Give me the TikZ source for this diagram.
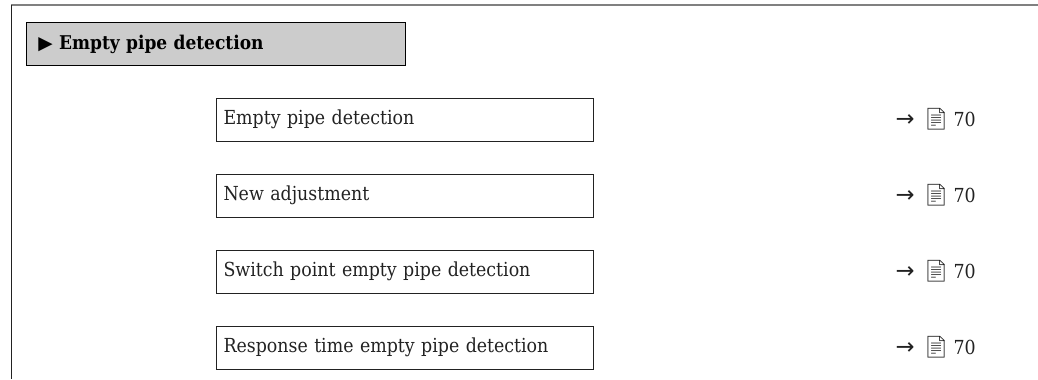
\documentclass[tikz,border=0pt]{standalone}
\usepackage{fontspec}
\setmainfont{DejaVu Serif Condensed}
\newfontfamily\symfont{DejaVu Sans}
\newfontfamily\emojifont{Noto Emoji}
\usetikzlibrary{positioning}
\definecolor{hdrfill}{HTML}{CCCCCC}
\definecolor{framegray}{HTML}{808080}
\definecolor{inkgray}{HTML}{222222}
\newcommand{\seepage}{{\symfont\fontsize{17}{17}\selectfont →}\hspace{6pt}{\emojifont\fontsize{16}{16}\selectfont 📄}\hspace{3pt}70}

\begin{document}
\begin{tikzpicture}[
  x=0.75pt, y=-0.75pt,
  node distance=24pt and 226pt,
  hdr/.style={rectangle, draw=black, line width=0.75pt, fill=hdrfill,
    minimum width=284.25pt, minimum height=32.25pt, inner xsep=9pt,
    text width=266.25pt, align=left, font=\bfseries\fontsize{14.2}{17}\selectfont},
  item/.style={rectangle, draw=inkgray, line width=0.75pt,
    minimum width=282.75pt, minimum height=32.25pt, inner xsep=5.25pt,
    text width=272.25pt, align=left, text=inkgray, font=\fontsize{14.5}{17}\selectfont},
  pgref/.style={inner sep=0pt, text=inkgray, font=\fontsize{14.5}{17}\selectfont},
]
  \useasboundingbox (0,0) rectangle (1038,379);
  % frame round the menu
  \draw[framegray, line width=1.5pt] (1038,5) -- (11,5);
  \draw[inkgray, line width=0.75pt] (11,5) -- (11,379);

  \node[hdr, anchor=north west] (head) at (26,22) {{\symfont\fontsize{14}{14}\selectfont ▶}\hspace{0pt} Empty pipe detection};

  \node[item, anchor=west] (p1) at (216,119.5) {Empty pipe detection};
  \node[item, below=of p1] (p2) {New adjustment};
  \node[item, below=of p2] (p3) {Switch point empty pipe detection};
  \node[item, below=of p3] (p4) {Response time empty pipe detection};

  \node[pgref, right=of p1] (r1) {\seepage};
  \node[pgref, right=of p2] (r2) {\seepage};
  \node[pgref, right=of p3] (r3) {\seepage};
  \node[pgref, right=of p4] (r4) {\seepage};
\end{tikzpicture}
\end{document}
